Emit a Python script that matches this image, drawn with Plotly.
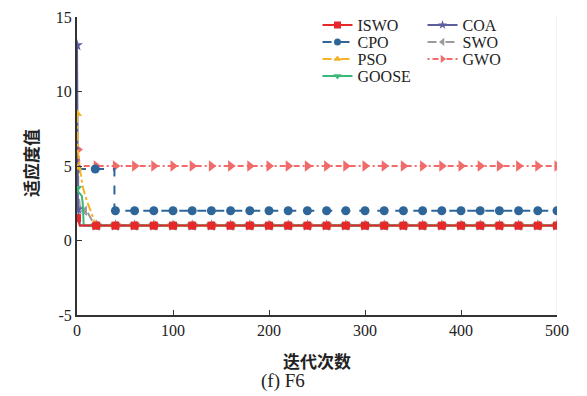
import plotly.graph_objects as go

# ---------------- data ----------------
series_names = ["ISWO", "CPO", "PSO", "GOOSE", "COA", "SWO", "GWO"]

# convergence curves: breakpoints (iteration, fitness)
ISWO_x = [0, 1, 3, 500]
ISWO_y = [1.5, 1.4, 1.0, 1.0]
CPO_x = [0, 39, 39, 500]
CPO_y = [4.8, 4.8, 2.0, 2.0]
PSO_x = [0, 1, 3, 6, 10, 16, 20, 500]
PSO_y = [8.5, 6.0, 4.8, 3.6, 2.7, 1.6, 1.0, 1.0]
GOOSE_x = [0, 1, 5, 6, 7, 500]
GOOSE_y = [3.5, 3.3, 3.0, 2.5, 1.0, 1.0]
COA_x = [0, 1, 3, 500]
COA_y = [13.1, 2.1, 1.0, 1.0]
SWO_x = [0, 3, 10, 16, 20, 500]
SWO_y = [4.0, 2.3, 2.0, 1.3, 1.0, 1.0]
GWO_x = [0, 2, 3, 500]
GWO_y = [6.0, 5.5, 5.0, 5.0]

# marker positions
grid = list(range(20, 501, 20))  # 20, 40, ..., 500
ISWO_mx = [0] + grid
ISWO_my = [1.5] + [1.0] * 25
CPO_mx = [0, 19] + grid[1:]
CPO_my = [4.8, 4.8] + [2.0] * 24
PSO_mx = [0, 0] + grid
PSO_my = [8.5, 4.9] + [1.0] * 25
GOOSE_mx = [0] + grid
GOOSE_my = [3.5] + [1.0] * 25
COA_mx = [0, 1] + grid
COA_my = [13.1, 2.1] + [1.0] * 25
SWO_mx = [0, 8] + grid
SWO_my = [4.0, 2.0] + [1.0] * 25
GWO_mx = [1] + grid
GWO_my = [6.1] + [5.0] * 25

x_ticks = [0, 100, 200, 300, 400, 500]
y_ticks = [-5, 0, 5, 10, 15]
y_ticktext = ["-5", "0", "5", "10", "15"]
caption = "(f) F6"

# ---------------- styles ----------------
style = {
    "ISWO": dict(color="#e8272a", dash="solid", symbol="square", size=8),
    "CPO": dict(color="#2f6699", dash="dash", symbol="circle", size=9),
    "PSO": dict(color="#f5b325", dash="dashdot", symbol="triangle-up", size=9),
    "GOOSE": dict(color="#3cb878", dash="solid", symbol="triangle-down", size=9),
    "COA": dict(color="#5c5e9e", dash="solid", symbol="star", size=9),
    "SWO": dict(color="#9b9b9b", dash="dash", symbol="triangle-left", size=9),
    "GWO": dict(color="#f26b6b", dash="2px,3px,6px,3px", symbol="triangle-right", size=10),
}

data = {
    "ISWO": (ISWO_x, ISWO_y, ISWO_mx, ISWO_my),
    "CPO": (CPO_x, CPO_y, CPO_mx, CPO_my),
    "PSO": (PSO_x, PSO_y, PSO_mx, PSO_my),
    "GOOSE": (GOOSE_x, GOOSE_y, GOOSE_mx, GOOSE_my),
    "COA": (COA_x, COA_y, COA_mx, COA_my),
    "SWO": (SWO_x, SWO_y, SWO_mx, SWO_my),
    "GWO": (GWO_x, GWO_y, GWO_mx, GWO_my),
}

fig = go.Figure()

draw_order = ["GWO", "CPO", "SWO", "COA", "PSO", "GOOSE", "ISWO"]
for name in draw_order:
    x, y, mx, my = data[name]
    s = style[name]
    fig.add_trace(go.Scatter(
        x=x, y=y, mode="lines", showlegend=False,
        line=dict(color=s["color"], width=2, dash=s["dash"]),
        hoverinfo="skip"))
    fig.add_trace(go.Scatter(
        x=mx, y=my, mode="markers", showlegend=False,
        marker=dict(color=s["color"], symbol=s["symbol"], size=s["size"],
                    line=dict(width=0))))

serif = "Liberation Serif"
cjk = "Noto Sans CJK SC"

# page offset (body margin) is 8px; margins below are in figure coordinates
OFF = 8
W, H = 587, 396
L, R, T, B = 69, 38, 9, 89
pw = W - L - R
ph = H - T - B
plot_bottom = H - B


def py(page_y):
    """paper y for a page pixel y"""
    return (plot_bottom - (page_y - OFF)) / ph


def px(page_x):
    return ((page_x - OFF) - L) / pw


col_x = {0: px(317.5), 1: px(422.5)}
row_px = [25, 42, 59, 76]
legend_pos = {
    "ISWO": (0, 0), "CPO": (0, 1), "PSO": (0, 2), "GOOSE": (0, 3),
    "COA": (1, 0), "SWO": (1, 1), "GWO": (1, 2),
}

legend_layouts = {}
for i, name in enumerate(series_names):
    s = style[name]
    key = "legend" if i == 0 else f"legend{i + 1}"
    fig.add_trace(go.Scatter(
        x=[None], y=[None], mode="lines+markers", name=name,
        legend=key,
        line=dict(color=s["color"], width=2, dash=s["dash"]),
        marker=dict(color=s["color"], symbol=s["symbol"], size=7, line=dict(width=0))))
    c, r = legend_pos[name]
    legend_layouts[key] = dict(
        x=col_x[c], y=py(row_px[r]), xanchor="left", yanchor="middle",
        font=dict(family=serif, size=16, color="#222"),
        bgcolor="rgba(0,0,0,0)", itemwidth=30)

fig.update_layout(
    width=W, height=H,
    margin=dict(l=L, r=R, t=T, b=B, autoexpand=False),
    paper_bgcolor="white", plot_bgcolor="white",
    font=dict(family=serif, size=15, color="#222"),
    xaxis=dict(range=[0, 500], tickvals=x_ticks, ticks="inside", ticklen=5,
               tickcolor="#333", showline=True, linecolor="#333", linewidth=2,
               showgrid=False, zeroline=False, automargin=False,
               tickfont=dict(family=serif, size=16, color="#222")),
    yaxis=dict(range=[-5, 15], tickvals=y_ticks, ticktext=y_ticktext,
               ticks="inside", ticklen=5,
               tickcolor="#333", showline=True, linecolor="#333", linewidth=2,
               showgrid=False, zeroline=False, automargin=False,
               tickfont=dict(family=serif, size=16, color="#222")),
    annotations=[
        dict(text="<b>迭代次数</b>", xref="paper", yref="paper",
             x=0.5, y=py(360), xanchor="center", yanchor="middle",
             showarrow=False, font=dict(family=cjk, size=17, color="#222")),
        dict(text="<b>适应度值</b>", xref="paper", yref="paper", textangle=-90,
             x=px(30), y=py(163), xanchor="center", yanchor="middle",
             showarrow=False, font=dict(family=cjk, size=17, color="#222")),
        dict(text=caption, xref="paper", yref="paper",
             x=px(282.5), y=py(381), xanchor="center", yanchor="middle",
             showarrow=False, font=dict(family=serif, size=19, color="#222")),
    ],
    shapes=[dict(type="line", xref="x", yref="paper", x0=500, x1=500, y0=0, y1=1,
                 line=dict(color="#e6e6e6", width=1), layer="below")],
    **legend_layouts,
)

fig.write_html("out.html")
